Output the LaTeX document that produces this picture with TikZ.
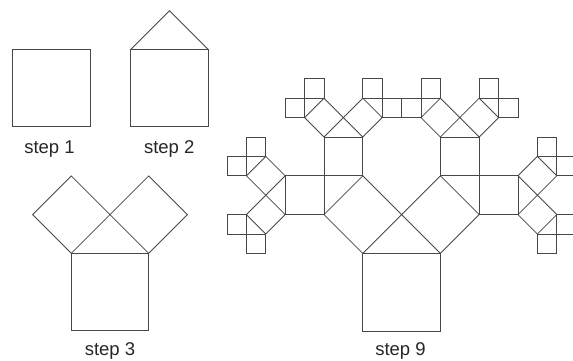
\documentclass[tikz,border=0pt]{standalone}
\usepackage{fontspec}
\setmainfont{Liberation Sans}
\tikzset{
  sq/.style={draw=black!72, line width=0.8pt, line join=miter},
  lbl/.style={font=\fontsize{18.5}{20}\selectfont, text=black!85, anchor=base, inner sep=0pt}
}
\newcommand\pytree[1]{%
  \draw[sq] (0,0) -- (1,0) -- (1,1) -- (0,1) -- cycle;
  \ifnum#1>0
    \begin{scope}[shift={(0,1)},rotate=45,scale=0.70710678]
      \expandafter\pytree\expandafter{\the\numexpr#1-1\relax}
    \end{scope}
    \begin{scope}[shift={(0.5,1.5)},rotate=-45,scale=0.70710678]
      \expandafter\pytree\expandafter{\the\numexpr#1-1\relax}
    \end{scope}
  \fi
}
\begin{document}
\begin{tikzpicture}[x=1pt,y=1pt]
  \useasboundingbox (0,0) rectangle (573,361);
  \clip (0,0) rectangle (573,361);
  % step 1
  \begin{scope}[shift={(12.5,234.3)},scale=77.4]
    \pytree{0}
  \end{scope}
  % step 2
  \begin{scope}[shift={(130.8,234.2)},scale=77.4]
    \pytree{0}
    \draw[sq] (0,1) -- (0.5,1.5) -- (1,1);
  \end{scope}
  % step 3
  \begin{scope}[shift={(71.3,30.3)},scale=77.4]
    \pytree{1}
  \end{scope}
  % step 9
  \begin{scope}[shift={(362.8,30)},scale=77.6]
    \pytree{4}
  \end{scope}
  \node[lbl] (l1) at (49.5,207) {step 1};
  \node[lbl] (l2) at (169.2,207) {step 2};
  \node[lbl] (l3) at (110,5) {step 3};
  \node[lbl] (l9) at (400.5,5) {step 9};
\end{tikzpicture}
\end{document}
